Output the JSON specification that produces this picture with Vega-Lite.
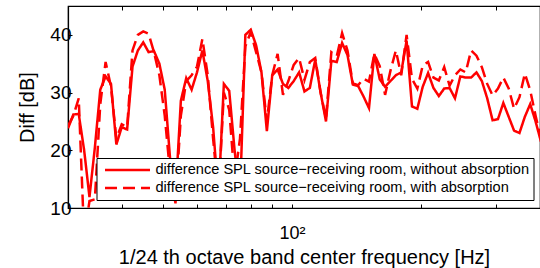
{
  "$schema": "https://vega.github.io/schema/vega-lite/v6.json",
  "width": 472,
  "height": 202,
  "autosize": "none",
  "padding": {"left": 68, "top": 6, "right": 0, "bottom": 60},
  "background": "white",
  "config": {
    "view": {"stroke": "black", "strokeWidth": 1.2},
    "font": "Liberation Sans",
    "axis": {"grid": false, "domainColor": "black", "tickColor": "black", "labelColor": "black", "titleColor": "black", "labelFont": "Liberation Sans", "titleFont": "Liberation Sans", "titleFontWeight": "normal"}
  },
  "data": {"values": [
    {"f":30.00,"a":23.8,"b":24.2},{"f":30.88,"a":26.2,"b":26.0},{"f":31.78,"a":26.3,"b":29.0},{"f":32.72,"a":20.0,"b":5.0},
    {"f":33.67,"a":11.9,"b":11.2},{"f":34.66,"a":20.5,"b":11.5},{"f":35.68,"a":30.5,"b":28.0},{"f":36.72,"a":32.8,"b":35.3},
    {"f":37.80,"a":31.5,"b":31.0},{"f":38.90,"a":21.0,"b":22.0},{"f":40.04,"a":24.0,"b":24.5},{"f":41.22,"a":23.6,"b":24.0},
    {"f":42.43,"a":34.5,"b":37.3},{"f":43.67,"a":37.3,"b":40.0},{"f":44.95,"a":38.7,"b":40.6},{"f":46.26,"a":37.0,"b":40.2},
    {"f":47.62,"a":37.2,"b":37.0},{"f":49.02,"a":35.0,"b":33.0},{"f":50.45,"a":30.5,"b":26.0},{"f":51.93,"a":18.5,"b":16.0},
    {"f":53.45,"a":12.0,"b":10.8},{"f":55.02,"a":28.6,"b":26.0},{"f":56.63,"a":32.5,"b":32.0},{"f":58.29,"a":30.5,"b":33.0},
    {"f":60.00,"a":33.5,"b":34.5},{"f":61.76,"a":37.3,"b":39.3},{"f":63.57,"a":32.0,"b":33.0},{"f":65.43,"a":24.0,"b":22.0},
    {"f":67.35,"a":12.0,"b":12.0},{"f":69.32,"a":31.5,"b":30.0},{"f":71.35,"a":30.3,"b":27.0},{"f":73.44,"a":20.0,"b":15.0},
    {"f":75.59,"a":12.0,"b":22.0},{"f":77.81,"a":40.0,"b":38.0},{"f":80.09,"a":40.9,"b":40.5},{"f":82.43,"a":38.2,"b":37.0},
    {"f":84.85,"a":33.5,"b":33.5},{"f":87.34,"a":23.3,"b":25.0},{"f":89.89,"a":33.0,"b":33.0},{"f":92.53,"a":34.0,"b":36.7},
    {"f":95.24,"a":31.5,"b":29.6},{"f":98.03,"a":30.8,"b":32.0},{"f":100.90,"a":32.0,"b":34.8},{"f":103.86,"a":33.5,"b":36.0},
    {"f":106.90,"a":30.2,"b":32.2},{"f":110.03,"a":30.8,"b":35.3},{"f":113.26,"a":35.7,"b":36.0},{"f":116.58,"a":30.0,"b":30.0},
    {"f":120.00,"a":25.0,"b":25.5},{"f":123.52,"a":35.5,"b":37.0},{"f":127.14,"a":35.3,"b":36.3},{"f":130.86,"a":38.6,"b":40.3},
    {"f":134.70,"a":36.5,"b":37.3},{"f":138.64,"a":31.4,"b":31.6},{"f":142.70,"a":31.1,"b":31.3},{"f":146.88,"a":29.3,"b":32.4},
    {"f":151.19,"a":27.3,"b":31.9},{"f":155.62,"a":36.7,"b":36.7},{"f":160.18,"a":32.3,"b":34.6},{"f":164.87,"a":31.0,"b":29.6},
    {"f":169.70,"a":32.0,"b":33.8},{"f":174.67,"a":33.0,"b":37.3},{"f":179.79,"a":33.5,"b":33.0},{"f":185.06,"a":39.0,"b":40.0},
    {"f":190.48,"a":27.6,"b":32.4},{"f":196.06,"a":27.2,"b":30.7},{"f":201.80,"a":31.0,"b":34.7},{"f":207.72,"a":33.4,"b":35.3},
    {"f":213.80,"a":30.8,"b":32.6},{"f":220.07,"a":29.4,"b":32.1},{"f":226.52,"a":30.7,"b":34.4},{"f":233.15,"a":30.8,"b":31.2},
    {"f":240.00,"a":29.0,"b":33.0},{"f":247.03,"a":32.8,"b":34.0},{"f":254.27,"a":32.6,"b":33.5},{"f":261.72,"a":32.6,"b":37.3},
    {"f":269.39,"a":33.5,"b":36.4},{"f":277.28,"a":32.0,"b":34.4},{"f":285.41,"a":29.0,"b":31.5},{"f":293.77,"a":25.2,"b":29.5},
    {"f":302.38,"a":25.4,"b":30.7},{"f":311.23,"a":28.2,"b":32.6},{"f":320.35,"a":25.8,"b":30.7},{"f":329.74,"a":23.4,"b":27.2},
    {"f":339.40,"a":23.0,"b":29.2},{"f":349.34,"a":25.8,"b":33.3},{"f":359.58,"a":28.0,"b":30.4},{"f":370.11,"a":25.0,"b":26.0},
    {"f":380.96,"a":21.5,"b":22.0}
  ]},
  "transform": [{"fold": ["a", "b"], "as": ["s", "v"]}],
  "layer": [
    {
      "mark": {"type": "line", "color": "#ff0000", "strokeWidth": 2.5, "clip": true},
      "encoding": {
        "x": {"field": "f", "type": "quantitative", "scale": {"type": "log", "domain": [30, 379], "nice": false},
          "axis": {"orient": "bottom", "values": [40,50,60,70,80,90,100,200,300], "labelExpr": "datum.value == 100 ? '10²' : ''", "tickSize": -4, "labelPadding": 20, "labelFontSize": 18, "title": "1/24 th octave band center frequency [Hz]", "titleFontSize": 20, "titlePadding": 5, "domainWidth": 1.2}},
        "y": {"field": "v", "type": "quantitative", "scale": {"domain": [10, 45], "nice": false, "zero": false},
          "axis": {"values": [10,20,30,40], "tickSize": -4, "labelPadding": 1, "labelFontSize": 19, "title": "Diff [dB]", "titleFontSize": 20, "titlePadding": 12, "domainWidth": 1.2}},
        "strokeDash": {"field": "s", "type": "nominal", "scale": {"domain": ["a", "b"], "range": [[1, 0], [12, 6]]},
          "legend": {"orient": "none", "legendX": 28.5, "legendY": 152, "title": null, "fillColor": "white", "strokeColor": "black", "padding": 3, "clipHeight": 18, "rowPadding": 0, "symbolType": "stroke", "symbolSize": 2025, "symbolOffset": 4, "symbolStrokeColor": "#ff0000", "symbolStrokeWidth": 2.5, "labelFontSize": 14.6, "labelFont": "Liberation Sans", "labelOffset": 4, "labelColor": "black", "labelLimit": 0,
            "labelExpr": "datum.label == 'a' ? 'difference SPL source−receiving room, without absorption' : 'difference SPL source−receiving room, with absorption'"}}
      }
    },
    {
      "mark": {"type": "rule", "opacity": 0},
      "encoding": {
        "x": {"field": "f", "type": "quantitative", "axis": {"orient": "top", "values": [40,50,60,70,80,90,100,200,300], "labels": false, "tickSize": -4, "title": null, "domainWidth": 1.2}}
      }
    }
  ],
  "resolve": {"axis": {"x": "independent"}}
}
